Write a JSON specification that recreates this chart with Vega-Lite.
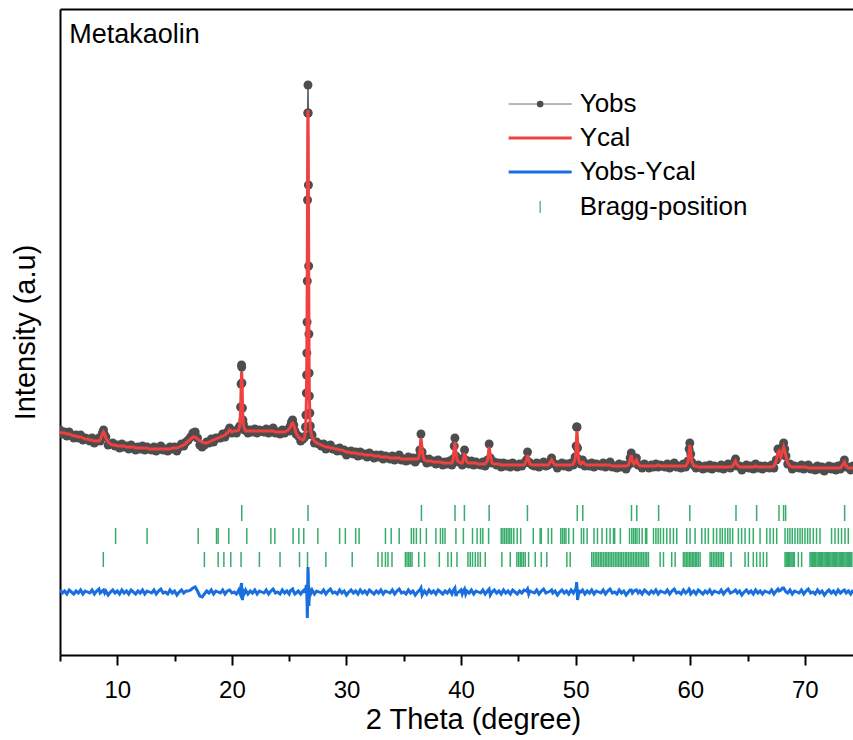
{
  "$schema": "https://vega.github.io/schema/vega-lite/v6.json",
  "width": 793,
  "height": 646,
  "autosize": "none",
  "padding": {"left": 60, "top": 9, "right": 0, "bottom": 85},
  "background": "white",
  "config": {"view": {"stroke": null}, "font": "Liberation Sans", "axis": {"grid": false}},
  "datasets": {
    "xrd": [
      {"t":5.0,"c":223,"o":225,"d":65},{"t":5.2,"c":222,"o":221,"d":62},{"t":5.4,"c":222,"o":223,"d":64},{"t":5.6,"c":221,"o":219,"d":61},{"t":5.8,"c":221,"o":223,"d":65},
      {"t":6.0,"c":220,"o":220,"d":63},{"t":6.2,"c":219,"o":217,"d":61},{"t":6.4,"c":219,"o":220,"d":64},{"t":6.6,"c":218,"o":217,"d":62},{"t":6.8,"c":218,"o":220,"d":65},
      {"t":7.0,"c":217,"o":215,"d":61},{"t":7.2,"c":216,"o":217,"d":64},{"t":7.4,"c":216,"o":216,"d":63},{"t":7.6,"c":215,"o":214,"d":62},{"t":7.8,"c":215,"o":217,"d":65},
      {"t":8.0,"c":214,"o":212,"d":61},{"t":8.2,"c":214,"o":215,"d":64},{"t":8.4,"c":214,"o":217,"d":66},{"t":8.5,"c":215,"o":214,"d":62},{"t":8.6,"c":218,"o":218,"d":63},
      {"t":8.7,"c":221,"o":222,"d":64},{"t":8.8,"c":223,"o":225,"d":65},{"t":8.9,"c":221,"o":220,"d":62},{"t":9.0,"c":217,"o":218,"d":64},{"t":9.2,"c":213,"o":210,"d":60},
      {"t":9.4,"c":211,"o":211,"d":63},{"t":9.6,"c":210,"o":212,"d":65},{"t":9.8,"c":210,"o":209,"d":62},{"t":10.0,"c":209,"o":210,"d":64},{"t":10.2,"c":209,"o":207,"d":61},
      {"t":10.4,"c":209,"o":211,"d":65},{"t":10.6,"c":209,"o":208,"d":62},{"t":10.8,"c":208,"o":209,"d":64},{"t":11.0,"c":208,"o":206,"d":61},{"t":11.2,"c":208,"o":210,"d":65},
      {"t":11.4,"c":208,"o":208,"d":63},{"t":11.6,"c":207,"o":205,"d":61},{"t":11.8,"c":207,"o":208,"d":64},{"t":12.0,"c":207,"o":206,"d":62},{"t":12.2,"c":207,"o":209,"d":65},
      {"t":12.4,"c":207,"o":205,"d":61},{"t":12.6,"c":207,"o":208,"d":64},{"t":12.8,"c":206,"o":206,"d":63},{"t":13.0,"c":206,"o":205,"d":62},{"t":13.2,"c":206,"o":208,"d":65},
      {"t":13.4,"c":206,"o":204,"d":61},{"t":13.6,"c":206,"o":207,"d":64},{"t":13.8,"c":206,"o":209,"d":66},{"t":14.0,"c":206,"o":205,"d":62},{"t":14.2,"c":206,"o":206,"d":63},
      {"t":14.4,"c":206,"o":204,"d":61},{"t":14.6,"c":206,"o":208,"d":65},{"t":14.8,"c":207,"o":206,"d":62},{"t":15.0,"c":207,"o":208,"d":64},{"t":15.2,"c":207,"o":204,"d":60},
      {"t":15.4,"c":208,"o":208,"d":63},{"t":15.6,"c":209,"o":211,"d":65},{"t":15.8,"c":210,"o":209,"d":62},{"t":16.0,"c":212,"o":213,"d":64},{"t":16.2,"c":214,"o":215,"d":64},
      {"t":16.4,"c":216,"o":218,"d":65},{"t":16.6,"c":218,"o":222,"d":67},{"t":16.8,"c":218,"o":223,"d":68},{"t":17.0,"c":216,"o":217,"d":64},{"t":17.2,"c":214,"o":210,"d":59},
      {"t":17.4,"c":213,"o":208,"d":58},{"t":17.6,"c":212,"o":210,"d":61},{"t":17.8,"c":212,"o":213,"d":64},{"t":18.0,"c":213,"o":212,"d":62},{"t":18.2,"c":214,"o":216,"d":65},
      {"t":18.4,"c":215,"o":213,"d":61},{"t":18.6,"c":216,"o":217,"d":64},{"t":18.8,"c":217,"o":217,"d":63},{"t":19.0,"c":218,"o":217,"d":62},{"t":19.2,"c":219,"o":221,"d":65},
      {"t":19.4,"c":220,"o":218,"d":61},{"t":19.6,"c":222,"o":223,"d":64},{"t":19.8,"c":225,"o":227,"d":65},{"t":20.0,"c":223,"o":222,"d":62},{"t":20.2,"c":224,"o":224,"d":63},
      {"t":20.4,"c":224,"o":222,"d":61},{"t":20.6,"c":225,"o":227,"d":65},{"t":20.7,"c":230,"o":229,"d":62},{"t":20.76,"c":245,"o":248,"d":66},{"t":20.8,"c":265,"o":271,"d":69},
      {"t":20.84,"c":281,"o":290,"d":72},{"t":20.86,"c":283,"o":288,"d":68},{"t":20.88,"c":276,"o":272,"d":59},{"t":20.92,"c":255,"o":247,"d":55},{"t":20.96,"c":238,"o":235,"d":60},
      {"t":21.0,"c":230,"o":231,"d":64},{"t":21.1,"c":226,"o":225,"d":62},{"t":21.2,"c":224,"o":226,"d":65},{"t":21.4,"c":224,"o":222,"d":61},{"t":21.6,"c":224,"o":225,"d":64},
      {"t":21.8,"c":224,"o":223,"d":62},{"t":22.0,"c":224,"o":226,"d":65},{"t":22.2,"c":224,"o":222,"d":61},{"t":22.4,"c":224,"o":225,"d":64},{"t":22.6,"c":224,"o":224,"d":63},
      {"t":22.8,"c":224,"o":223,"d":62},{"t":23.0,"c":224,"o":226,"d":65},{"t":23.2,"c":224,"o":222,"d":61},{"t":23.4,"c":224,"o":225,"d":64},{"t":23.6,"c":224,"o":227,"d":66},
      {"t":23.8,"c":223,"o":222,"d":62},{"t":24.0,"c":223,"o":223,"d":63},{"t":24.2,"c":223,"o":221,"d":61},{"t":24.4,"c":223,"o":225,"d":65},{"t":24.6,"c":223,"o":222,"d":62},
      {"t":24.8,"c":224,"o":225,"d":64},{"t":25.0,"c":226,"o":224,"d":61},{"t":25.1,"c":228,"o":229,"d":64},{"t":25.2,"c":231,"o":233,"d":65},{"t":25.3,"c":232,"o":235,"d":66},
      {"t":25.4,"c":230,"o":230,"d":63},{"t":25.5,"c":226,"o":224,"d":61},{"t":25.6,"c":222,"o":221,"d":62},{"t":25.8,"c":218,"o":219,"d":64},{"t":26.0,"c":216,"o":214,"d":61},
      {"t":26.2,"c":215,"o":216,"d":64},{"t":26.3,"c":216,"o":218,"d":65},{"t":26.36,"c":219,"o":218,"d":62},{"t":26.42,"c":226,"o":228,"d":65},{"t":26.46,"c":236,"o":240,"d":67},
      {"t":26.5,"c":255,"o":262,"d":70},{"t":26.52,"c":275,"o":280,"d":68},{"t":26.54,"c":305,"o":302,"d":60},{"t":26.56,"c":345,"o":333,"d":51},{"t":26.58,"c":400,"o":374,"d":37},
      {"t":26.6,"c":470,"o":455,"d":48},{"t":26.62,"c":530,"o":542,"d":75},{"t":26.64,"c":545,"o":570,"d":88},{"t":26.66,"c":522,"o":542,"d":83},{"t":26.68,"c":462,"o":470,"d":71},
      {"t":26.7,"c":395,"o":389,"d":57},{"t":26.72,"c":335,"o":321,"d":49},{"t":26.74,"c":290,"o":282,"d":55},{"t":26.76,"c":262,"o":259,"d":60},{"t":26.8,"c":240,"o":242,"d":65},
      {"t":26.84,"c":228,"o":229,"d":64},{"t":26.9,"c":222,"o":221,"d":62},{"t":27.0,"c":218,"o":220,"d":65},{"t":27.2,"c":214,"o":212,"d":61},{"t":27.4,"c":212,"o":213,"d":64},
      {"t":27.6,"c":211,"o":211,"d":63},{"t":27.8,"c":210,"o":209,"d":62},{"t":28.0,"c":209,"o":211,"d":65},{"t":28.2,"c":208,"o":206,"d":61},{"t":28.4,"c":208,"o":209,"d":64},
      {"t":28.6,"c":207,"o":210,"d":66},{"t":28.8,"c":207,"o":206,"d":62},{"t":29.0,"c":206,"o":206,"d":63},{"t":29.2,"c":206,"o":204,"d":61},{"t":29.4,"c":205,"o":207,"d":65},
      {"t":29.6,"c":205,"o":204,"d":62},{"t":29.8,"c":204,"o":205,"d":64},{"t":30.0,"c":203,"o":200,"d":60},{"t":30.2,"c":203,"o":203,"d":63},{"t":30.4,"c":202,"o":204,"d":65},
      {"t":30.6,"c":202,"o":201,"d":62},{"t":30.8,"c":202,"o":203,"d":64},{"t":31.0,"c":201,"o":199,"d":61},{"t":31.2,"c":201,"o":203,"d":65},{"t":31.4,"c":201,"o":200,"d":62},
      {"t":31.6,"c":200,"o":201,"d":64},{"t":31.8,"c":200,"o":198,"d":61},{"t":32.0,"c":200,"o":202,"d":65},{"t":32.2,"c":200,"o":200,"d":63},{"t":32.4,"c":199,"o":197,"d":61},
      {"t":32.6,"c":199,"o":200,"d":64},{"t":32.8,"c":199,"o":198,"d":62},{"t":33.0,"c":198,"o":200,"d":65},{"t":33.2,"c":198,"o":196,"d":61},{"t":33.4,"c":198,"o":199,"d":64},
      {"t":33.6,"c":198,"o":198,"d":63},{"t":33.8,"c":197,"o":196,"d":62},{"t":34.0,"c":197,"o":199,"d":65},{"t":34.2,"c":197,"o":195,"d":61},{"t":34.4,"c":197,"o":198,"d":64},
      {"t":34.6,"c":197,"o":200,"d":66},{"t":34.8,"c":196,"o":195,"d":62},{"t":35.0,"c":196,"o":196,"d":63},{"t":35.2,"c":196,"o":194,"d":61},{"t":35.4,"c":196,"o":198,"d":65},
      {"t":35.6,"c":196,"o":195,"d":62},{"t":35.8,"c":196,"o":197,"d":64},{"t":36.0,"c":196,"o":193,"d":60},{"t":36.2,"c":196,"o":196,"d":63},{"t":36.3,"c":197,"o":198,"d":64},
      {"t":36.4,"c":203,"o":205,"d":65},{"t":36.5,"c":217,"o":221,"d":67},{"t":36.6,"c":206,"o":203,"d":60},{"t":36.7,"c":198,"o":197,"d":62},{"t":36.8,"c":195,"o":196,"d":64},
      {"t":37.0,"c":194,"o":192,"d":61},{"t":37.2,"c":194,"o":196,"d":65},{"t":37.4,"c":194,"o":193,"d":62},{"t":37.6,"c":193,"o":194,"d":64},{"t":37.8,"c":193,"o":191,"d":61},
      {"t":38.0,"c":193,"o":195,"d":65},{"t":38.2,"c":193,"o":193,"d":63},{"t":38.4,"c":192,"o":190,"d":61},{"t":38.6,"c":192,"o":193,"d":64},{"t":38.8,"c":192,"o":191,"d":62},
      {"t":39.0,"c":192,"o":194,"d":65},{"t":39.2,"c":192,"o":190,"d":61},{"t":39.3,"c":195,"o":196,"d":64},{"t":39.4,"c":206,"o":209,"d":66},{"t":39.46,"c":213,"o":217,"d":67},
      {"t":39.55,"c":203,"o":199,"d":59},{"t":39.65,"c":195,"o":194,"d":62},{"t":39.8,"c":193,"o":193,"d":63},{"t":40.0,"c":192,"o":194,"d":65},{"t":40.1,"c":192,"o":190,"d":61},
      {"t":40.2,"c":196,"o":197,"d":64},{"t":40.3,"c":202,"o":205,"d":66},{"t":40.4,"c":197,"o":195,"d":61},{"t":40.5,"c":193,"o":194,"d":64},{"t":40.7,"c":192,"o":191,"d":62},
      {"t":40.9,"c":192,"o":194,"d":65},{"t":41.1,"c":192,"o":190,"d":61},{"t":41.3,"c":192,"o":193,"d":64},{"t":41.5,"c":191,"o":191,"d":63},{"t":41.7,"c":191,"o":190,"d":62},
      {"t":41.9,"c":191,"o":193,"d":65},{"t":42.1,"c":191,"o":189,"d":61},{"t":42.3,"c":194,"o":195,"d":64},{"t":42.45,"c":208,"o":211,"d":66},{"t":42.55,"c":200,"o":197,"d":60},
      {"t":42.7,"c":192,"o":192,"d":63},{"t":42.9,"c":191,"o":193,"d":65},{"t":43.1,"c":191,"o":190,"d":62},{"t":43.3,"c":191,"o":192,"d":64},{"t":43.5,"c":190,"o":188,"d":61},
      {"t":43.7,"c":190,"o":192,"d":65},{"t":43.9,"c":190,"o":189,"d":62},{"t":44.1,"c":190,"o":191,"d":64},{"t":44.3,"c":190,"o":188,"d":61},{"t":44.5,"c":190,"o":192,"d":65},
      {"t":44.7,"c":190,"o":190,"d":63},{"t":44.9,"c":190,"o":188,"d":61},{"t":45.1,"c":190,"o":191,"d":64},{"t":45.3,"c":190,"o":189,"d":62},{"t":45.5,"c":190,"o":192,"d":65},
      {"t":45.7,"c":194,"o":195,"d":64},{"t":45.8,"c":200,"o":203,"d":66},{"t":45.9,"c":195,"o":193,"d":61},{"t":46.0,"c":191,"o":192,"d":64},{"t":46.2,"c":190,"o":190,"d":63},
      {"t":46.4,"c":190,"o":189,"d":62},{"t":46.6,"c":190,"o":192,"d":65},{"t":46.8,"c":190,"o":188,"d":61},{"t":47.0,"c":190,"o":191,"d":64},{"t":47.2,"c":190,"o":193,"d":66},
      {"t":47.4,"c":190,"o":189,"d":62},{"t":47.6,"c":190,"o":190,"d":63},{"t":47.8,"c":193,"o":194,"d":64},{"t":47.9,"c":195,"o":197,"d":65},{"t":48.0,"c":193,"o":192,"d":62},
      {"t":48.2,"c":190,"o":191,"d":64},{"t":48.4,"c":190,"o":187,"d":60},{"t":48.6,"c":190,"o":190,"d":63},{"t":48.8,"c":190,"o":192,"d":65},{"t":49.0,"c":190,"o":189,"d":62},
      {"t":49.2,"c":190,"o":191,"d":64},{"t":49.4,"c":190,"o":188,"d":61},{"t":49.6,"c":190,"o":192,"d":65},{"t":49.8,"c":191,"o":190,"d":62},{"t":49.95,"c":196,"o":198,"d":65},
      {"t":50.04,"c":205,"o":209,"d":67},{"t":50.08,"c":218,"o":228,"d":73},{"t":50.12,"c":224,"o":228,"d":67},{"t":50.16,"c":215,"o":207,"d":55},{"t":50.22,"c":200,"o":196,"d":59},
      {"t":50.3,"c":193,"o":194,"d":64},{"t":50.45,"c":191,"o":191,"d":63},{"t":50.6,"c":193,"o":195,"d":65},{"t":50.8,"c":191,"o":189,"d":61},{"t":51.0,"c":190,"o":191,"d":64},
      {"t":51.2,"c":190,"o":189,"d":62},{"t":51.4,"c":190,"o":192,"d":65},{"t":51.6,"c":190,"o":188,"d":61},{"t":51.8,"c":190,"o":191,"d":64},{"t":52.0,"c":190,"o":190,"d":63},
      {"t":52.2,"c":190,"o":189,"d":62},{"t":52.4,"c":190,"o":192,"d":65},{"t":52.6,"c":190,"o":188,"d":61},{"t":52.8,"c":190,"o":191,"d":64},{"t":53.0,"c":190,"o":193,"d":66},
      {"t":53.2,"c":189,"o":188,"d":62},{"t":53.4,"c":189,"o":189,"d":63},{"t":53.6,"c":189,"o":187,"d":61},{"t":53.8,"c":189,"o":191,"d":65},{"t":54.0,"c":189,"o":188,"d":62},
      {"t":54.2,"c":189,"o":190,"d":64},{"t":54.4,"c":189,"o":186,"d":60},{"t":54.6,"c":190,"o":190,"d":63},{"t":54.75,"c":195,"o":197,"d":65},{"t":54.85,"c":200,"o":202,"d":65},
      {"t":54.95,"c":194,"o":193,"d":62},{"t":55.1,"c":191,"o":192,"d":64},{"t":55.3,"c":195,"o":197,"d":65},{"t":55.45,"c":191,"o":190,"d":62},{"t":55.6,"c":189,"o":190,"d":64},
      {"t":55.8,"c":189,"o":187,"d":61},{"t":56.0,"c":189,"o":191,"d":65},{"t":56.2,"c":189,"o":189,"d":63},{"t":56.4,"c":189,"o":187,"d":61},{"t":56.6,"c":189,"o":190,"d":64},
      {"t":56.8,"c":189,"o":188,"d":62},{"t":57.0,"c":189,"o":191,"d":65},{"t":57.2,"c":190,"o":188,"d":61},{"t":57.4,"c":189,"o":190,"d":64},{"t":57.6,"c":189,"o":189,"d":63},
      {"t":57.8,"c":189,"o":188,"d":62},{"t":58.0,"c":189,"o":191,"d":65},{"t":58.2,"c":189,"o":187,"d":61},{"t":58.4,"c":189,"o":190,"d":64},{"t":58.6,"c":189,"o":192,"d":66},
      {"t":58.8,"c":189,"o":188,"d":62},{"t":59.0,"c":189,"o":189,"d":63},{"t":59.2,"c":189,"o":187,"d":61},{"t":59.4,"c":189,"o":191,"d":65},{"t":59.6,"c":189,"o":188,"d":62},
      {"t":59.8,"c":193,"o":194,"d":64},{"t":59.9,"c":203,"o":206,"d":66},{"t":59.96,"c":210,"o":212,"d":65},{"t":60.04,"c":203,"o":201,"d":61},{"t":60.12,"c":194,"o":193,"d":62},
      {"t":60.3,"c":189,"o":190,"d":64},{"t":60.5,"c":189,"o":187,"d":61},{"t":60.7,"c":188,"o":190,"d":65},{"t":60.9,"c":188,"o":188,"d":63},{"t":61.1,"c":188,"o":186,"d":61},
      {"t":61.3,"c":188,"o":189,"d":64},{"t":61.5,"c":188,"o":187,"d":62},{"t":61.7,"c":188,"o":190,"d":65},{"t":61.9,"c":188,"o":186,"d":61},{"t":62.1,"c":188,"o":189,"d":64},
      {"t":62.3,"c":188,"o":188,"d":63},{"t":62.5,"c":188,"o":187,"d":62},{"t":62.7,"c":188,"o":190,"d":65},{"t":62.9,"c":188,"o":186,"d":61},{"t":63.1,"c":188,"o":189,"d":64},
      {"t":63.3,"c":188,"o":191,"d":66},{"t":63.5,"c":188,"o":187,"d":62},{"t":63.7,"c":189,"o":189,"d":63},{"t":63.85,"c":192,"o":193,"d":64},{"t":63.95,"c":194,"o":196,"d":65},
      {"t":64.1,"c":190,"o":189,"d":62},{"t":64.3,"c":188,"o":189,"d":64},{"t":64.5,"c":188,"o":185,"d":60},{"t":64.7,"c":188,"o":188,"d":63},{"t":64.9,"c":188,"o":190,"d":65},
      {"t":65.1,"c":188,"o":187,"d":62},{"t":65.3,"c":188,"o":189,"d":64},{"t":65.5,"c":188,"o":186,"d":61},{"t":65.7,"c":189,"o":191,"d":65},{"t":65.9,"c":188,"o":187,"d":62},
      {"t":66.1,"c":188,"o":189,"d":64},{"t":66.3,"c":188,"o":186,"d":61},{"t":66.5,"c":188,"o":189,"d":64},{"t":66.7,"c":188,"o":188,"d":63},{"t":66.9,"c":188,"o":187,"d":62},
      {"t":67.1,"c":188,"o":190,"d":65},{"t":67.3,"c":189,"o":187,"d":61},{"t":67.5,"c":194,"o":195,"d":64},{"t":67.65,"c":203,"o":206,"d":66},{"t":67.75,"c":204,"o":205,"d":64},
      {"t":67.9,"c":198,"o":200,"d":65},{"t":68.05,"c":204,"o":208,"d":67},{"t":68.15,"c":208,"o":212,"d":67},{"t":68.25,"c":204,"o":206,"d":65},{"t":68.35,"c":199,"o":199,"d":63},
      {"t":68.5,"c":192,"o":191,"d":62},{"t":68.7,"c":189,"o":191,"d":65},{"t":68.9,"c":188,"o":186,"d":61},{"t":69.1,"c":188,"o":189,"d":64},{"t":69.3,"c":188,"o":188,"d":63},
      {"t":69.5,"c":188,"o":187,"d":62},{"t":69.7,"c":188,"o":190,"d":65},{"t":69.9,"c":188,"o":186,"d":61},{"t":70.1,"c":188,"o":189,"d":64},{"t":70.3,"c":187,"o":190,"d":66},
      {"t":70.5,"c":187,"o":186,"d":62},{"t":70.7,"c":187,"o":187,"d":63},{"t":70.9,"c":187,"o":185,"d":61},{"t":71.1,"c":187,"o":189,"d":65},{"t":71.3,"c":187,"o":186,"d":62},
      {"t":71.5,"c":187,"o":188,"d":64},{"t":71.7,"c":187,"o":184,"d":60},{"t":71.9,"c":187,"o":187,"d":63},{"t":72.1,"c":187,"o":189,"d":65},{"t":72.3,"c":187,"o":186,"d":62},
      {"t":72.5,"c":187,"o":188,"d":64},{"t":72.7,"c":187,"o":185,"d":61},{"t":72.9,"c":187,"o":189,"d":65},{"t":73.1,"c":187,"o":186,"d":62},{"t":73.3,"c":190,"o":191,"d":64},
      {"t":73.45,"c":193,"o":195,"d":65},{"t":73.6,"c":189,"o":188,"d":62},{"t":73.8,"c":187,"o":188,"d":64},{"t":74.0,"c":187,"o":185,"d":61},{"t":74.2,"c":187,"o":189,"d":65}
    ]
  },
  "layer": [
    {
      "data": {"name": "xrd"},
      "mark": {"type": "line", "strokeWidth": 1.5, "clip": true, "color": "#555555"},
      "encoding": {
        "x": {"field": "t", "type": "quantitative", "scale": {"domain": [5, 74.2], "nice": false, "zero": false},
          "axis": {"values": [10, 20, 30, 40, 50, 60, 70], "tickSize": 10, "tickWidth": 2, "tickColor": "black", "domainColor": "black", "domainWidth": 2, "labelFontSize": 24, "labelColor": "black", "labelPadding": 13, "labelFont": "Liberation Sans", "labelFlush": false, "title": "2 Theta (degree)", "titleFontSize": 29, "titleFontWeight": "normal", "titleFont": "Liberation Sans", "titleColor": "black", "titlePadding": 3, "titleX": 413, "grid": false}},
        "y": {"field": "o", "type": "quantitative", "scale": {"domain": [0, 646], "nice": false, "zero": false},
          "axis": {"ticks": false, "labels": false, "domainColor": "black", "domainWidth": 2, "title": "Intensity (a.u)", "titleFontSize": 29, "titleFontWeight": "normal", "titleFont": "Liberation Sans", "titleColor": "black", "titlePadding": 20, "grid": false}}
      }
    },
    {
      "data": {"name": "xrd"},
      "mark": {"type": "circle", "size": 80, "opacity": 1, "clip": true, "color": "#4d4d4d"},
      "encoding": {
        "x": {"field": "t", "type": "quantitative", "axis": null},
        "y": {"field": "o", "type": "quantitative", "axis": null}
      }
    },
    {
      "data": {"name": "xrd"},
      "mark": {"type": "line", "strokeWidth": 3, "clip": true, "color": "#f14040"},
      "encoding": {
        "x": {"field": "t", "type": "quantitative", "axis": {"orient": "top", "labels": false, "ticks": false, "domain": true, "domainColor": "black", "domainWidth": 2, "title": null, "grid": false}},
        "y": {"field": "c", "type": "quantitative", "axis": null}
      }
    },
    {
      "data": {"name": "xrd"},
      "mark": {"type": "line", "strokeWidth": 3, "clip": true, "color": "#1a6fdf"},
      "encoding": {
        "x": {"field": "t", "type": "quantitative", "axis": null},
        "y": {"field": "d", "type": "quantitative", "axis": null}
      }
    },
    {
      "data": {"values": [20.86,26.64,36.54,39.47,40.29,42.45,45.79,50.14,50.62,54.87,55.33,57.24,59.96,63.99,65.79,67.74,68.14,68.32,73.47]},
      "mark": {"type": "rule", "strokeWidth": 1.5, "color": "#37ad6b"},
      "encoding": {
        "x": {"field": "data", "type": "quantitative", "axis": {"values": [5, 15, 25, 35, 45, 55, 65, 75], "labels": false, "domain": false, "tickSize": 6, "tickWidth": 2, "tickColor": "black", "title": null, "grid": false}},
        "y": {"datum": 150, "type": "quantitative", "axis": null},
        "y2": {"datum": 134}
      }
    },
    {
      "data": {"values": [9.85,12.6,17.06,18.66,18.8,19.73,21.3,23.4,23.75,25.34,25.84,26.27,27.5,29.4,29.9,30.8,31.1,33.4,33.9,34.6,35.66,35.86,36.1,36.45,36.97,37.8,38.2,38.4,38.6,39.55,40.2,41.0,41.4,41.7,41.9,42.4,43.5,43.65,43.8,43.95,44.1,44.25,44.4,44.6,44.9,45.2,46.3,46.9,47.0,47.6,47.9,48.7,48.85,49.0,49.15,49.4,49.8,50.5,50.7,51.0,51.6,51.9,52.3,52.7,53.0,53.3,53.4,53.9,54.7,54.9,55.05,55.2,55.35,55.55,55.8,56.1,56.2,56.79,57.0,57.2,57.4,57.66,57.95,58.24,58.53,58.82,59.69,59.98,60.42,61.0,61.3,61.58,62.02,62.3,62.6,62.8,63.04,63.27,63.47,63.7,64.2,64.48,64.78,65.16,65.5,66.09,66.67,66.96,67.25,67.54,68.27,68.5,68.7,68.9,69.14,69.37,69.58,69.78,70.01,70.24,70.45,70.74,71.02,71.32,72.33,72.63,72.92,73.2,73.5,73.79]},
      "mark": {"type": "rule", "strokeWidth": 1.5, "color": "#37ad6b"},
      "encoding": {
        "x": {"field": "data", "type": "quantitative", "axis": null},
        "y": {"datum": 127, "type": "quantitative", "axis": null},
        "y2": {"datum": 111}
      }
    },
    {
      "data": {"values": [8.78,17.6,18.8,19.3,19.9,20.8,22.4,24.2,25.9,26.6,28.2,30.5,32.75,33.1,33.4,33.62,33.97,35.14,35.28,35.43,35.57,35.72,36.3,36.82,38.1,38.85,39.15,39.64,40.6,40.8,41.0,41.24,41.47,41.68,42.11,43.56,44.29,44.87,45.02,45.17,45.3,45.45,45.6,45.89,46.47,47.0,47.48,49.23,49.52,51.4,51.55,51.7,51.85,51.99,52.14,52.28,52.43,52.58,52.72,52.86,53.0,53.15,53.3,53.45,53.6,53.74,53.88,54.02,54.17,54.32,54.46,54.61,54.75,54.9,55.04,55.19,55.33,55.48,55.62,55.77,55.91,56.06,56.2,56.35,57.37,57.66,58.38,58.68,59.4,59.53,59.66,59.79,59.92,60.05,60.18,60.31,60.44,60.57,60.7,60.86,61.73,61.87,62.02,62.16,62.31,62.45,62.6,62.74,62.89,63.56,64.78,65.07,65.5,65.79,66.09,66.38,66.67,68.27,68.37,68.47,68.57,68.67,68.78,68.88,68.98,69.08,69.43,69.72,70.45,70.55,70.65,70.75,70.85,70.95,71.06,71.16,71.26,71.36,71.46,71.56,71.67,71.77,71.87,71.97,72.07,72.17,72.28,72.38,72.48,72.58,72.68,72.78,72.89,72.99,73.09,73.19,73.29,73.39,73.5,73.6,73.7,73.8,73.9,74.0,74.1]},
      "mark": {"type": "rule", "strokeWidth": 1.5, "color": "#37ad6b"},
      "encoding": {
        "x": {"field": "data", "type": "quantitative", "axis": null},
        "y": {"datum": 103, "type": "quantitative", "axis": null},
        "y2": {"datum": 88}
      }
    },
    {
      "data": {"values": [{}]},
      "mark": {"type": "rule", "strokeWidth": 1, "color": "#6e6e6e"},
      "encoding": {"x": {"datum": 44.15, "type": "quantitative", "axis": null}, "x2": {"datum": 49.65}, "y": {"datum": 551, "type": "quantitative", "axis": null}}
    },
    {
      "data": {"values": [{}]},
      "mark": {"type": "circle", "size": 45, "opacity": 1, "color": "#4d4d4d"},
      "encoding": {"x": {"datum": 46.9, "type": "quantitative", "axis": null}, "y": {"datum": 551, "type": "quantitative", "axis": null}}
    },
    {
      "data": {"values": [{}]},
      "mark": {"type": "rule", "strokeWidth": 3, "color": "#f14040"},
      "encoding": {"x": {"datum": 44.15, "type": "quantitative", "axis": null}, "x2": {"datum": 49.65}, "y": {"datum": 517, "type": "quantitative", "axis": null}}
    },
    {
      "data": {"values": [{}]},
      "mark": {"type": "rule", "strokeWidth": 3, "color": "#1a6fdf"},
      "encoding": {"x": {"datum": 44.15, "type": "quantitative", "axis": null}, "x2": {"datum": 49.65}, "y": {"datum": 483, "type": "quantitative", "axis": null}}
    },
    {
      "data": {"values": [{}]},
      "mark": {"type": "rule", "strokeWidth": 1.2, "color": "#37ad6b"},
      "encoding": {"x": {"datum": 46.9, "type": "quantitative", "axis": null}, "y": {"datum": 442, "type": "quantitative", "axis": null}, "y2": {"datum": 454}}
    },
    {
      "data": {"values": [{}]},
      "mark": {"type": "text", "align": "left", "baseline": "middle", "fontSize": 26, "font": "Liberation Sans", "color": "black"},
      "encoding": {"x": {"datum": 50.35, "type": "quantitative", "axis": null}, "y": {"datum": 551, "type": "quantitative", "axis": null}, "text": {"value": "Yobs"}}
    },
    {
      "data": {"values": [{}]},
      "mark": {"type": "text", "align": "left", "baseline": "middle", "fontSize": 26, "font": "Liberation Sans", "color": "black"},
      "encoding": {"x": {"datum": 50.35, "type": "quantitative", "axis": null}, "y": {"datum": 517, "type": "quantitative", "axis": null}, "text": {"value": "Ycal"}}
    },
    {
      "data": {"values": [{}]},
      "mark": {"type": "text", "align": "left", "baseline": "middle", "fontSize": 26, "font": "Liberation Sans", "color": "black"},
      "encoding": {"x": {"datum": 50.35, "type": "quantitative", "axis": null}, "y": {"datum": 483, "type": "quantitative", "axis": null}, "text": {"value": "Yobs-Ycal"}}
    },
    {
      "data": {"values": [{}]},
      "mark": {"type": "text", "align": "left", "baseline": "middle", "fontSize": 26, "font": "Liberation Sans", "color": "black"},
      "encoding": {"x": {"datum": 50.35, "type": "quantitative", "axis": null}, "y": {"datum": 448, "type": "quantitative", "axis": null}, "text": {"value": "Bragg-position"}}
    },
    {
      "data": {"values": [{}]},
      "mark": {"type": "text", "align": "left", "baseline": "alphabetic", "fontSize": 27, "font": "Liberation Sans", "color": "black"},
      "encoding": {"x": {"datum": 5.8, "type": "quantitative", "axis": null}, "y": {"datum": 612, "type": "quantitative", "axis": null}, "text": {"value": "Metakaolin"}}
    }
  ],
  "resolve": {"axis": {"x": "independent", "y": "independent"}}
}
